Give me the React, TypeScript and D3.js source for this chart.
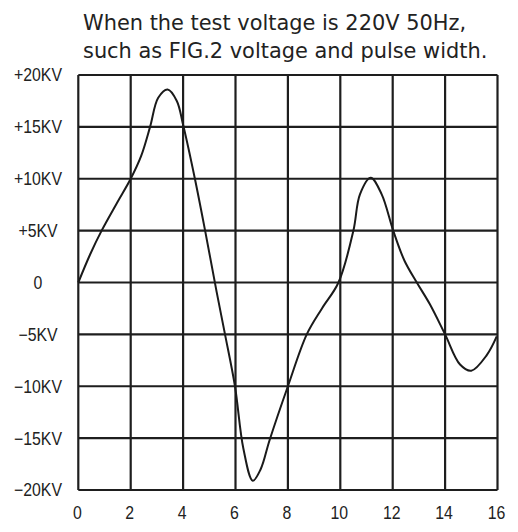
import React from "react";
import * as d3 from "d3";

const titleLines = [
  "When the test voltage is 220V 50Hz,",
  "such as FIG.2 voltage and pulse width.",
];

const xTicks = [0, 2, 4, 6, 8, 10, 12, 14, 16];
const xTickLabels = ["0", "2", "4", "6", "8", "10", "12", "14", "16"];
const yTicks = [20, 15, 10, 5, 0, -5, -10, -15, -20];
const yTickLabels = ["+20KV", "+15KV", "+10KV", "+5KV", "0", "\u22125KV", "\u221210KV", "\u221215KV", "\u221220KV"];

const timeValues = [
  0, 0.45, 0.89, 1.46, 2.0, 2.4, 2.74, 3.05, 3.41, 3.76, 4.0, 4.45, 4.84, 5.28,
  5.6, 5.98, 6.3, 6.66, 6.96, 7.3, 8.0, 8.72, 9.3, 9.93, 10.5, 10.75, 11.16,
  11.58, 12.02, 12.45, 12.92, 13.42, 14.0, 14.57, 15.0, 15.59, 15.97,
];
const voltageValues = [
  0, 2.7, 5, 7.6, 10, 12.2, 15, 17.8, 18.6, 17.5, 15.2, 10, 5, -0.9,
  -5, -10, -16, -19.1, -18.0, -15.2, -10, -5, -2.5, 0, 5, 8.5, 10.1,
  8.5, 5, 2.1, 0, -2.1, -5, -7.9, -8.5, -7.0, -5.2,
];

const W = 518;
const H = 532;
const left = 78.3;
const right = 497.5;
const top = 75;
const bottom = 490;

export default function App() {
  const x = d3.scaleLinear().domain([0, 16]).range([left, right]);
  const y = d3.scaleLinear().domain([-20, 20]).range([bottom, top]);
  const pts: [number, number][] = timeValues.map((t, i) => [t, voltageValues[i]]);
  const line = d3
    .line<[number, number]>()
    .x((d) => x(d[0]))
    .y((d) => y(d[1]))
    .curve(d3.curveCatmullRom.alpha(0.5));
  const gridColor = "#1e1e1e";
  const labelFont = "'Liberation Sans', Arial, sans-serif";
  return (
    <svg
      width={W}
      height={H}
      style={{ position: "absolute", left: 0, top: 0, background: "#fff" }}
    >
      <rect x={0} y={0} width={W} height={H} fill="#fff" />
      {titleLines.map((t, i) => (
        <text
          key={i}
          x={83}
          y={30 + i * 27.5}
          fontFamily="'DejaVu Sans', Verdana, sans-serif"
          fontSize={20.9}
          fill="#222"
        >
          {t}
        </text>
      ))}
      {xTicks.map((v) => (
        <line
          key={"vx" + v}
          x1={x(v)}
          x2={x(v)}
          y1={top}
          y2={bottom}
          stroke={gridColor}
          strokeWidth={2.2}
        />
      ))}
      {yTicks.map((v) => (
        <line
          key={"hy" + v}
          x1={left}
          x2={right}
          y1={y(v)}
          y2={y(v)}
          stroke={gridColor}
          strokeWidth={2.2}
        />
      ))}
      <path d={line(pts) || ""} fill="none" stroke="#1a1a1a" strokeWidth={2} />
      {yTicks.map((v, i) => (
        <text
          key={"yl" + v}
          transform={`translate(38,${y(v)}) scale(0.88,1)`}
          dy="0.36em"
          textAnchor="middle"
          fontFamily={labelFont}
          fontSize={18}
          fill="#222"
        >
          {yTickLabels[i]}
        </text>
      ))}
      {xTicks.map((v, i) => (
        <text
          key={"xl" + v}
          transform={`translate(${x(v) - 1},519) scale(0.88,1)`}
          textAnchor="middle"
          fontFamily={labelFont}
          fontSize={18}
          fill="#222"
        >
          {xTickLabels[i]}
        </text>
      ))}
    </svg>
  );
}
